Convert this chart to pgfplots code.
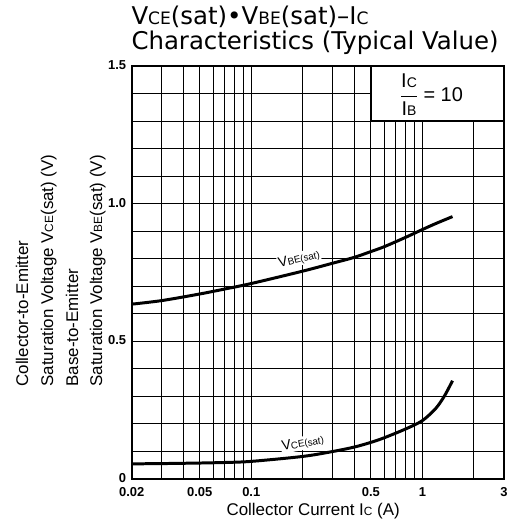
\documentclass[border=0pt]{standalone}
\usepackage{fontspec}
\setmainfont{Liberation Sans}
\newfontfamily\titlefont{DejaVu Sans}
\usepackage{pgfplots}
\pgfplotsset{compat=1.18}
\makeatletter
\newcommand\sm[1]{{\fontsize{\strip@pt\dimexpr0.7\dimexpr\f@size pt\relax\relax}{0}\selectfont #1}}
\makeatother
\newcommand\fs[1]{\fontsize{#1}{#1}\selectfont}

\begin{document}
\begin{tikzpicture}
\path[use as bounding box] (0,0) rectangle (510bp,522bp);
\begin{axis}[
    at={(131.7bp,43bp)}, anchor=south west,
    scale only axis, width=372.3bp, height=413bp,
    xmode=log, xmin=0.02, xmax=3, ymin=0, ymax=1.5,
    xtick={0.02,0.05,0.1,0.5,1,3},
    xticklabels={0.02,0.05,0.1,0.5,1,3},
    minor xtick={0.03,0.04,0.06,0.07,0.08,0.09,0.2,0.3,0.4,0.6,0.7,0.8,0.9,2},
    ytick={0,0.5,1,1.5},
    yticklabels={0,0.5,1.0,1.5},
    minor ytick={0.1,0.2,0.3,0.4,0.6,0.7,0.8,0.9,1.1,1.2,1.3,1.4},
    grid=both,
    major grid style={black, line width=1.1pt},
    minor grid style={black, line width=1.1pt},
    major tick length=0pt, minor tick length=0pt,
    axis line style={black, line width=1.8pt},
    tick label style={font=\fs{13}\bfseries},
    xticklabel style={yshift=-5bp},
    yticklabel style={xshift=-2bp, yshift=1bp},
]
% V_BE(sat)
\addplot[black, line width=3pt, smooth] coordinates {
    (0.02,0.635) (0.03,0.648) (0.05,0.672) (0.07,0.690) (0.1,0.710)
    (0.2,0.755) (0.3,0.784) (0.4,0.805) (0.5,0.826) (0.6,0.844)
    (0.8,0.878) (1.0,0.906) (1.2,0.928) (1.5,0.953)
};
% V_CE(sat)
\addplot[black, line width=3pt, smooth] coordinates {
    (0.02,0.055) (0.03,0.056) (0.05,0.058) (0.07,0.060) (0.1,0.064)
    (0.2,0.082) (0.3,0.100) (0.4,0.116) (0.5,0.133) (0.6,0.150)
    (0.8,0.182) (1.0,0.212) (1.2,0.257) (1.35,0.303) (1.5,0.357)
};
\node[rotate=13, fill=white, inner sep=1pt, font=\fs{14}] at (axis cs:0.19,0.80) {V\sm{BE(sat)}};
\node[rotate=10, fill=white, inner sep=1pt, font=\fs{14}] at (axis cs:0.2,0.13) {V\sm{CE(sat)}};
\draw[black, fill=white, line width=1.6pt] (axis cs:0.5,1.3) rectangle (axis cs:3,1.5);
\node[font=\fs{20}] at (axis cs:1.13,1.395) {$\displaystyle\frac{\mbox{I\sm{C}}}{\mbox{I\sm{B}}}$ = 10};
\end{axis}
% titles
\node[anchor=base west, font=\titlefont\fs{24.5}] at (128bp,497bp) {V\sm{CE}(sat)\textbullet V\sm{BE}(sat)–I\sm{C}};
\node[anchor=base west, font=\titlefont\fs{24.5}] at (128bp,472bp) {Characteristics (Typical Value)};
% y labels
\node[rotate=90, anchor=base west, font=\fs{17}] at (28bp,132bp) {Collector-to-Emitter};
\node[rotate=90, anchor=base west, font=\fs{17}] at (53bp,132bp) {Saturation Voltage V\sm{CE}(sat) (V)};
\node[rotate=90, anchor=base west, font=\fs{17}] at (78bp,132bp) {Base-to-Emitter};
\node[rotate=90, anchor=base west, font=\fs{17}] at (102bp,132bp) {Saturation Voltage V\sm{BE}(sat) (V)};
% x label
\node[anchor=base west, font=\fs{17}] at (223bp,7bp) {Collector Current I\sm{C} (A)};
\end{tikzpicture}
\end{document}
